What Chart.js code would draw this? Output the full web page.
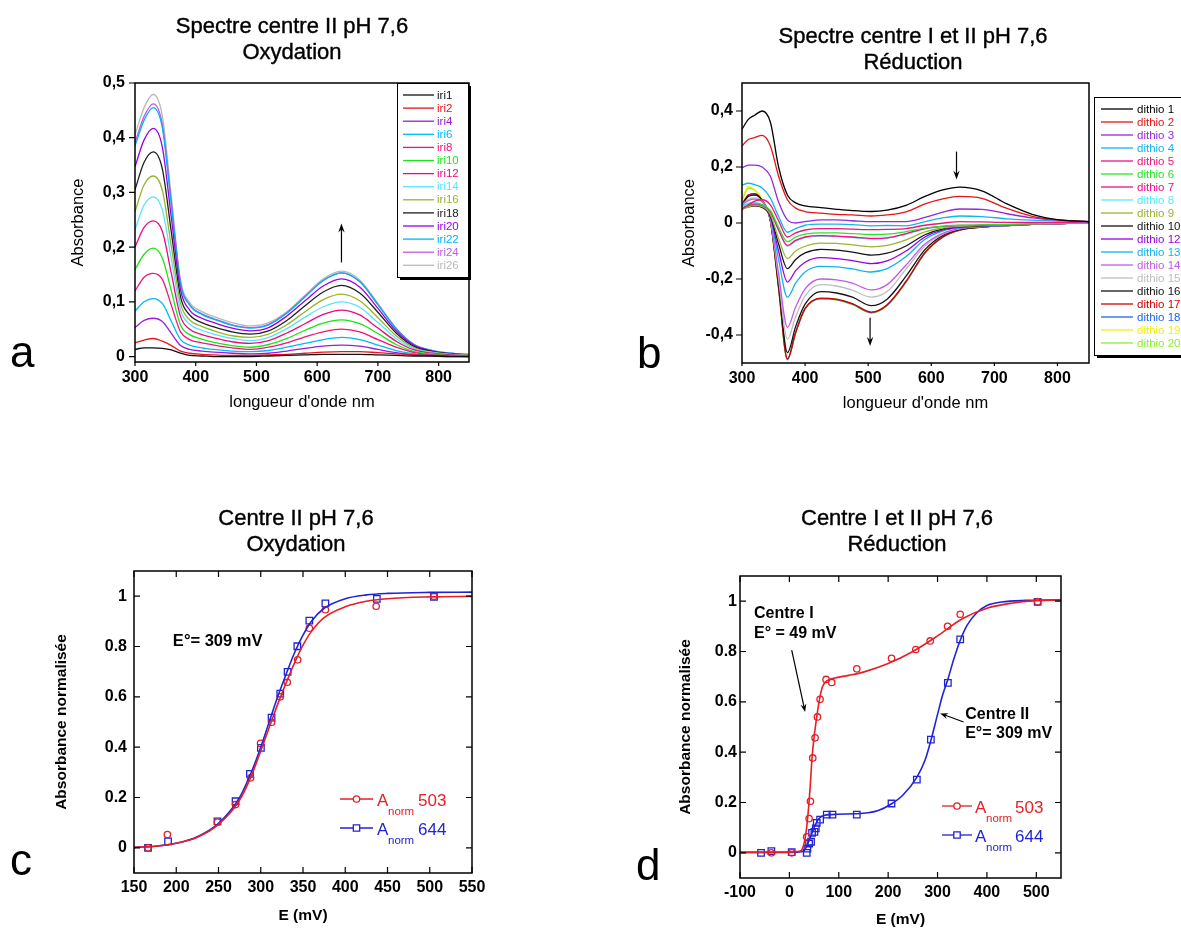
<!DOCTYPE html>
<html lang="fr">
<head>
<meta charset="utf-8">
<title>Spectres et titrages redox, centres I et II</title>
<script src="https://cdn.jsdelivr.net/npm/chart.js@4.4.1/dist/chart.umd.min.js"></script>
<style>
  body { margin: 0; background: #fff; font-family: "Liberation Sans", Arial, sans-serif; }
  #page { position: relative; width: 1181px; height: 929px; overflow: hidden; background: #fff; }
  canvas { position: absolute; }
  .title { position: absolute; width: 400px; text-align: center; font-size: 22px; line-height: 26px; color: #000;
           white-space: nowrap; -webkit-text-stroke: 0.4px #000; }
  .letter { position: absolute; font-size: 44px; line-height: 44px; color: #000; }
</style>
</head>
<body>
<div id="page">
  <canvas id="chA" width="600" height="430" style="left:0;top:0"></canvas>
  <canvas id="chB" width="581" height="430" style="left:600px;top:0"></canvas>
  <canvas id="chC" width="600" height="449" style="left:0;top:480px"></canvas>
  <canvas id="chD" width="581" height="449" style="left:600px;top:480px"></canvas>

  <div class="title" style="left:92px;top:13px">Spectre centre II pH 7,6<br>Oxydation</div>
  <div class="title" style="left:713px;top:23px">Spectre centre I et II pH 7,6<br>Réduction</div>
  <div class="title" style="left:96px;top:505px">Centre II pH 7,6<br>Oxydation</div>
  <div class="title" style="left:697px;top:505px">Centre I et II pH 7,6<br>Réduction</div>

  <div class="letter" style="left:10px;top:330px">a</div>
  <div class="letter" style="left:637px;top:331px">b</div>
  <div class="letter" style="left:10px;top:838px">c</div>
  <div class="letter" style="left:636px;top:843px">d</div>
</div>

<script>
// ---- a : oxydation, centre II (absorbance vs longueur d'onde)
const wlA = [300, 315, 330, 345, 360, 375, 390, 410, 430, 460, 490, 520, 550, 580, 610, 640, 670, 700, 730, 760, 790, 820, 850];
const iri1  = [0.013, 0.016, 0.016, 0.015, 0.012, 0.006, 0.002, 0.001, 0.0, 0.0, 0.0, 0.001, 0.002, 0.003, 0.004, 0.004, 0.004, 0.003, 0.002, 0.001, 0.001, 0.0, 0.0];
const iri2  = [0.025, 0.03, 0.033, 0.028, 0.02, 0.01, 0.006, 0.004, 0.003, 0.002, 0.002, 0.003, 0.004, 0.006, 0.008, 0.009, 0.009, 0.007, 0.005, 0.003, 0.002, 0.001, 0.0];
const iri4  = [0.053, 0.066, 0.07, 0.064, 0.042, 0.02, 0.013, 0.01, 0.008, 0.006, 0.005, 0.006, 0.01, 0.015, 0.019, 0.021, 0.019, 0.013, 0.007, 0.003, 0.001, 0.0, 0.0];
const iri6  = [0.083, 0.1, 0.106, 0.097, 0.064, 0.031, 0.021, 0.016, 0.013, 0.01, 0.009, 0.011, 0.017, 0.024, 0.031, 0.035, 0.031, 0.021, 0.011, 0.005, 0.002, 0.001, 0.0];
const iri8  = [0.12, 0.145, 0.152, 0.141, 0.093, 0.045, 0.031, 0.025, 0.021, 0.016, 0.013, 0.017, 0.025, 0.036, 0.045, 0.05, 0.045, 0.031, 0.017, 0.007, 0.003, 0.002, 0.001];
const iri10 = [0.159, 0.187, 0.198, 0.18, 0.119, 0.057, 0.04, 0.032, 0.026, 0.02, 0.017, 0.022, 0.033, 0.048, 0.061, 0.067, 0.06, 0.042, 0.022, 0.009, 0.005, 0.002, 0.001];
const iri12 = [0.2, 0.236, 0.248, 0.229, 0.151, 0.073, 0.05, 0.04, 0.034, 0.027, 0.024, 0.029, 0.043, 0.06, 0.077, 0.085, 0.076, 0.052, 0.028, 0.012, 0.006, 0.003, 0.002];
const iri14 = [0.232, 0.277, 0.292, 0.268, 0.177, 0.085, 0.059, 0.048, 0.041, 0.033, 0.029, 0.035, 0.051, 0.072, 0.091, 0.1, 0.09, 0.062, 0.033, 0.014, 0.007, 0.004, 0.002];
const iri16 = [0.265, 0.314, 0.33, 0.304, 0.2, 0.097, 0.067, 0.055, 0.047, 0.038, 0.035, 0.041, 0.058, 0.082, 0.104, 0.114, 0.102, 0.071, 0.038, 0.016, 0.008, 0.004, 0.003];
const iri18 = [0.305, 0.355, 0.374, 0.343, 0.226, 0.109, 0.076, 0.062, 0.054, 0.045, 0.041, 0.047, 0.066, 0.093, 0.118, 0.13, 0.116, 0.081, 0.043, 0.018, 0.009, 0.005, 0.003];
const iri20 = [0.347, 0.396, 0.417, 0.383, 0.252, 0.122, 0.085, 0.07, 0.062, 0.052, 0.047, 0.053, 0.074, 0.102, 0.129, 0.142, 0.127, 0.088, 0.047, 0.02, 0.01, 0.005, 0.003];
const iri22 = [0.385, 0.432, 0.455, 0.418, 0.276, 0.133, 0.094, 0.077, 0.068, 0.057, 0.052, 0.058, 0.079, 0.109, 0.139, 0.153, 0.137, 0.095, 0.051, 0.021, 0.011, 0.006, 0.004];
const iri24 = [0.391, 0.439, 0.462, 0.425, 0.28, 0.135, 0.095, 0.078, 0.069, 0.058, 0.053, 0.059, 0.08, 0.11, 0.139, 0.153, 0.137, 0.095, 0.051, 0.022, 0.011, 0.006, 0.004];
const iri26 = [0.405, 0.455, 0.479, 0.44, 0.29, 0.14, 0.099, 0.082, 0.073, 0.062, 0.056, 0.062, 0.082, 0.112, 0.142, 0.156, 0.14, 0.097, 0.052, 0.022, 0.011, 0.006, 0.004];
const namesA = ['iri1', 'iri2', 'iri4', 'iri6', 'iri8', 'iri10', 'iri12', 'iri14', 'iri16', 'iri18', 'iri20', 'iri22', 'iri24', 'iri26'];
const seriesA = [iri1, iri2, iri4, iri6, iri8, iri10, iri12, iri14, iri16, iri18, iri20, iri22, iri24, iri26];
const aXTicks = [300, 400, 500, 600, 700, 800];
const aYTicks = [0, 0.1, 0.2, 0.3, 0.4, 0.5];
const aYLabels = ['0', '0,1', '0,2', '0,3', '0,4', '0,5'];

// ---- b : reduction, centres I et II
const wlB = [300, 310, 320, 332, 345, 358, 372, 385, 400, 425, 450, 475, 505, 530, 560, 590, 620, 645, 680, 720, 760, 800, 850];
const dithio1  = [0.335, 0.37, 0.385, 0.4, 0.36, 0.2, 0.1, 0.072, 0.061, 0.055, 0.049, 0.044, 0.041, 0.046, 0.063, 0.095, 0.119, 0.128, 0.115, 0.068, 0.031, 0.012, 0.005];
const dithio2  = [0.275, 0.298, 0.305, 0.313, 0.275, 0.167, 0.083, 0.053, 0.041, 0.035, 0.031, 0.029, 0.025, 0.029, 0.04, 0.068, 0.087, 0.095, 0.088, 0.052, 0.024, 0.011, 0.005];
const dithio3  = [0.197, 0.207, 0.207, 0.2, 0.167, 0.075, 0.011, 0.0, 0.005, 0.011, 0.011, 0.008, 0.005, 0.005, 0.005, 0.02, 0.04, 0.05, 0.049, 0.033, 0.018, 0.01, 0.005];
const dithio4  = [0.135, 0.142, 0.137, 0.125, 0.089, 0.023, -0.033, -0.02, -0.008, -0.004, -0.004, -0.006, -0.01, -0.009, -0.01, 0.005, 0.019, 0.025, 0.023, 0.015, 0.01, 0.007, 0.004];
const dithio5  = [0.05, 0.065, 0.078, 0.083, 0.065, 0.008, -0.05, -0.035, -0.025, -0.02, -0.02, -0.022, -0.024, -0.023, -0.02, -0.008, 0.0, 0.005, 0.004, 0.002, 0.002, 0.002, 0.002];
const dithio6  = [0.05, 0.065, 0.07, 0.065, 0.045, -0.015, -0.067, -0.05, -0.04, -0.035, -0.035, -0.038, -0.041, -0.04, -0.031, -0.018, -0.011, -0.008, -0.007, -0.005, -0.003, -0.001, 0.0];
const dithio7  = [0.05, 0.063, 0.068, 0.063, 0.04, -0.025, -0.08, -0.062, -0.05, -0.045, -0.047, -0.05, -0.055, -0.053, -0.038, -0.02, -0.012, -0.009, -0.008, -0.006, -0.004, -0.002, 0.0];
const dithio8  = [0.055, 0.07, 0.07, 0.062, 0.04, -0.027, -0.083, -0.065, -0.052, -0.047, -0.048, -0.052, -0.057, -0.054, -0.04, -0.021, -0.013, -0.01, -0.008, -0.006, -0.004, -0.002, 0.0];
const dithio9  = [0.048, 0.058, 0.062, 0.058, 0.03, -0.055, -0.127, -0.1, -0.083, -0.072, -0.073, -0.078, -0.085, -0.08, -0.06, -0.032, -0.017, -0.012, -0.009, -0.007, -0.005, -0.002, 0.0];
const dithio10 = [0.05, 0.058, 0.06, 0.056, 0.025, -0.075, -0.163, -0.13, -0.107, -0.094, -0.097, -0.104, -0.115, -0.108, -0.082, -0.042, -0.02, -0.013, -0.01, -0.007, -0.005, -0.002, 0.0];
const dithio12 = [0.055, 0.063, 0.065, 0.06, 0.022, -0.1, -0.211, -0.17, -0.14, -0.124, -0.127, -0.134, -0.145, -0.135, -0.1, -0.05, -0.024, -0.015, -0.011, -0.008, -0.005, -0.002, 0.0];
const dithio13 = [0.06, 0.07, 0.072, 0.065, 0.02, -0.13, -0.265, -0.215, -0.175, -0.155, -0.157, -0.164, -0.175, -0.163, -0.12, -0.058, -0.027, -0.017, -0.012, -0.008, -0.005, -0.002, 0.0];
const dithio14 = [0.065, 0.08, 0.085, 0.075, 0.015, -0.18, -0.373, -0.3, -0.235, -0.2, -0.203, -0.215, -0.239, -0.22, -0.15, -0.075, -0.035, -0.02, -0.013, -0.009, -0.005, -0.002, 0.0];
const dithio15 = [0.065, 0.085, 0.09, 0.078, 0.012, -0.2, -0.415, -0.335, -0.26, -0.22, -0.225, -0.24, -0.265, -0.245, -0.165, -0.082, -0.038, -0.021, -0.013, -0.009, -0.005, -0.002, 0.0];
const dithio16 = [0.065, 0.095, 0.1, 0.08, 0.01, -0.22, -0.463, -0.37, -0.29, -0.245, -0.25, -0.265, -0.295, -0.272, -0.19, -0.095, -0.042, -0.023, -0.014, -0.009, -0.005, -0.002, 0.0];
const dithio17 = [0.065, 0.1, 0.105, 0.08, 0.008, -0.23, -0.485, -0.39, -0.305, -0.268, -0.272, -0.288, -0.318, -0.292, -0.208, -0.105, -0.047, -0.025, -0.015, -0.009, -0.005, -0.002, 0.0];
const dithio18 = [0.066, 0.1, 0.104, 0.08, 0.008, -0.23, -0.487, -0.392, -0.306, -0.27, -0.274, -0.29, -0.32, -0.294, -0.21, -0.107, -0.048, -0.025, -0.015, -0.009, -0.005, -0.002, 0.0];
const dithio19 = [0.085, 0.13, 0.12, 0.085, 0.008, -0.232, -0.488, -0.392, -0.306, -0.27, -0.274, -0.29, -0.32, -0.294, -0.21, -0.107, -0.048, -0.025, -0.015, -0.009, -0.005, -0.002, 0.0];
const dithio20 = [0.08, 0.125, 0.118, 0.083, 0.006, -0.235, -0.49, -0.395, -0.308, -0.272, -0.275, -0.292, -0.322, -0.296, -0.212, -0.108, -0.048, -0.025, -0.015, -0.009, -0.005, -0.002, 0.0];
const namesB = ['dithio 1', 'dithio 2', 'dithio 3', 'dithio 4', 'dithio 5', 'dithio 6', 'dithio 7', 'dithio 8', 'dithio 9', 'dithio 10',
                'dithio 12', 'dithio 13', 'dithio 14', 'dithio 15', 'dithio 16', 'dithio 17', 'dithio 18', 'dithio 19', 'dithio 20'];
const seriesB = [dithio1, dithio2, dithio3, dithio4, dithio5, dithio6, dithio7, dithio8, dithio9, dithio10,
                 dithio12, dithio13, dithio14, dithio15, dithio16, dithio17, dithio18, dithio19, dithio20];
const bXTicks = [300, 400, 500, 600, 700, 800];
const bYTicks = [-0.4, -0.2, 0, 0.2, 0.4];
const bYLabels = ['-0,4', '-0,2', '0', '0,2', '0,4'];

// ---- c : titrage oxydatif, centre II
const cE503 = [166.6, 189.5, 248.8, 270.2, 288, 299.8, 312.8, 323.1, 331.4, 343.7, 357.5, 376.5, 436.6, 505];
const cA503 = [0, 0.053, 0.102, 0.172, 0.278, 0.415, 0.499, 0.6, 0.658, 0.747, 0.873, 0.946, 0.96, 1.0];
const cE644 = [166.6, 190.3, 248.8, 270.2, 287.2, 300.2, 312.8, 323.1, 331.8, 343.3, 357.5, 376.5, 437.4, 505];
const cA644 = [0, 0.026, 0.105, 0.185, 0.294, 0.397, 0.517, 0.613, 0.699, 0.801, 0.903, 0.971, 0.989, 0.997];
const cFitE   = [150, 175, 200, 225, 250, 275, 290, 300, 310, 320, 330, 340, 350, 360, 375, 400, 425, 450, 500, 550];
const cFit503 = [0.002, 0.006, 0.018, 0.042, 0.093, 0.19, 0.295, 0.385, 0.478, 0.57, 0.655, 0.735, 0.805, 0.86, 0.915, 0.958, 0.98, 0.99, 0.997, 0.999];
const cFit644 = [0.002, 0.006, 0.018, 0.044, 0.097, 0.2, 0.31, 0.4, 0.5, 0.6, 0.69, 0.775, 0.845, 0.9, 0.952, 0.99, 1.005, 1.011, 1.015, 1.016];
const cXTicks = [150, 200, 250, 300, 350, 400, 450, 500, 550];
const cYTicks = [0, 0.2, 0.4, 0.6, 0.8, 1];
const cYLabels = ['0', '0.2', '0.4', '0.6', '0.8', '1'];

// ---- d : titrage reducteur, centres I et II
const dE503 = [-36.5, 4.7, 35.1, 39.9, 42.6, 47.3, 52, 56.8, 62.2, 74.3, 85.8, 136.5, 206.8, 256, 285.1, 320.3, 345.9, 502.7];
const dA503 = [0.0, 0.0, 0.064, 0.136, 0.205, 0.377, 0.457, 0.54, 0.61, 0.689, 0.677, 0.731, 0.773, 0.808, 0.842, 0.9, 0.948, 0.998];
const dE644 = [-57.4, -36.5, 4.7, 35.1, 36.5, 39.9, 43.9, 45.9, 50.7, 53.4, 55.4, 62.2, 75.7, 87.2, 136.5, 206.8, 258.1, 286.5, 320.9, 345.9, 502.7];
const dA644 = [0.0, 0.007, 0.003, 0.0, 0.017, 0.037, 0.044, 0.079, 0.083, 0.097, 0.119, 0.132, 0.152, 0.152, 0.152, 0.196, 0.291, 0.45, 0.675, 0.848, 0.997];
const dFit503E = [-100, 0, 20, 26, 30, 34, 38, 42, 46, 50, 54, 58, 62, 67, 75, 90, 120, 150, 200, 250, 300, 350, 400, 450, 500, 550];
const dFit503  = [0.002, 0.003, 0.006, 0.015, 0.04, 0.085, 0.16, 0.26, 0.38, 0.46, 0.52, 0.575, 0.62, 0.66, 0.682, 0.694, 0.705, 0.718, 0.752, 0.8, 0.862, 0.93, 0.972, 0.992, 1.002, 1.005];
const dFit644E = [-100, 0, 25, 32, 38, 44, 50, 56, 62, 70, 85, 150, 180, 207, 230, 258, 275, 287, 300, 310, 321, 333, 346, 360, 380, 400, 430, 480, 550];
const dFit644  = [0.002, 0.002, 0.004, 0.015, 0.04, 0.07, 0.1, 0.125, 0.14, 0.148, 0.152, 0.157, 0.168, 0.195, 0.23, 0.3, 0.37, 0.45, 0.55, 0.625, 0.69, 0.77, 0.845, 0.905, 0.955, 0.983, 0.997, 1.003, 1.005];
const dXTicks = [-100, 0, 100, 200, 300, 400, 500];
const dYTicks = [0, 0.2, 0.4, 0.6, 0.8, 1];
const dYLabels = ['0', '0.2', '0.4', '0.6', '0.8', '1'];
const legendNums = ['503', '644'];

const colorsA = ['#111111', '#e8141e', '#9b1ed7', '#00b9f5', '#f0147d', '#19e619', '#eb0a7d', '#5ae1ff',
                 '#96b42d', '#1e1e1e', '#9b00e6', '#00b4f0', '#be5ae6', '#b9b9b9'];
const colorsB = ['#000000', '#e61414', '#9628dc', '#14b4f0', '#f0147d', '#28e628', '#f50a87', '#5ae6ff', '#9bb432', '#141414',
                 '#9600e6', '#0fb4f0', '#c35ae6', '#bebebe', '#141414', '#d20000', '#1e64f5', '#f0f014', '#8cf02d'];
const RED = '#e41f26';
const BLUE = '#2323d6';
const FONT = '"Liberation Sans", Arial, sans-serif';

Chart.defaults.font.family = FONT;
Chart.defaults.color = '#000';
Chart.defaults.animation = false;

const pts = (xs, ys) => xs.map((x, i) => ({ x: x, y: ys[i] }));

function drawArrow(ctx, x1, y1, x2, y2, head, half) {
  const ang = Math.atan2(y2 - y1, x2 - x1);
  const c = Math.cos(ang), s = Math.sin(ang);
  ctx.beginPath();
  ctx.moveTo(x1, y1);
  ctx.lineTo(x2 - c * head * 0.6, y2 - s * head * 0.6);
  ctx.stroke();
  ctx.beginPath();
  ctx.moveTo(x2, y2);
  ctx.lineTo(x2 - c * head - s * half, y2 - s * head + c * half);
  ctx.lineTo(x2 - c * head * 0.65, y2 - s * head * 0.65);
  ctx.lineTo(x2 - c * head + s * half, y2 - s * head - c * half);
  ctx.closePath();
  ctx.fill();
}

// frame, ticks, arrows, notes and legends
const decoPlugin = {
  id: 'deco',
  afterDatasetsDraw(chart, args, o) {
    const ctx = chart.ctx, a = chart.chartArea;
    const xs = chart.scales.x, ys = chart.scales.y;
    ctx.save();
    ctx.strokeStyle = '#000';
    ctx.fillStyle = '#000';
    ctx.lineWidth = 1.5;
    ctx.strokeRect(a.left, a.top, a.right - a.left, a.bottom - a.top);

    ctx.lineWidth = 1.2;
    ctx.beginPath();
    xs.ticks.forEach(t => {
      const p = xs.getPixelForValue(t.value);
      if (o.inward) {
        ctx.moveTo(p, a.bottom); ctx.lineTo(p, a.bottom - o.tickX);
        ctx.moveTo(p, a.top); ctx.lineTo(p, a.top + o.tickX);
      } else {
        ctx.moveTo(p, a.bottom); ctx.lineTo(p, a.bottom + o.tickX);
      }
    });
    ys.ticks.forEach(t => {
      const p = ys.getPixelForValue(t.value);
      if (o.inward) {
        ctx.moveTo(a.left, p); ctx.lineTo(a.left + o.tickY, p);
        ctx.moveTo(a.right, p); ctx.lineTo(a.right - o.tickY, p);
      } else {
        ctx.moveTo(a.left, p); ctx.lineTo(a.left - o.tickY, p);
      }
    });
    ctx.stroke();

    ctx.lineWidth = 1.2;
    (o.arrows || []).forEach(ar => {
      drawArrow(ctx, xs.getPixelForValue(ar.from[0]), ys.getPixelForValue(ar.from[1]),
                xs.getPixelForValue(ar.to[0]), ys.getPixelForValue(ar.to[1]), ar.head, ar.half);
    });

    ctx.textAlign = 'left';
    ctx.textBaseline = 'middle';
    (o.notes || []).forEach(n => {
      ctx.font = n.font;
      ctx.fillText(n.text, xs.getPixelForValue(n.x), ys.getPixelForValue(n.y));
    });

    const bl = o.boxLegend;
    if (bl) {
      ctx.fillStyle = '#000';
      ctx.fillRect(bl.left + 3, bl.top + 3, bl.width, bl.height);
      ctx.fillStyle = '#fff';
      ctx.fillRect(bl.left, bl.top, bl.width, bl.height);
      ctx.lineWidth = 1;
      ctx.strokeRect(bl.left + 0.5, bl.top + 0.5, bl.width, bl.height);
      ctx.font = bl.font;
      ctx.textBaseline = 'middle';
      chart.data.datasets.forEach((ds, i) => {
        const yy = bl.top + bl.first + i * bl.row;
        ctx.strokeStyle = ds.borderColor;
        ctx.lineWidth = 1.3;
        ctx.beginPath();
        ctx.moveTo(bl.left + bl.line0, yy);
        ctx.lineTo(bl.left + bl.line1, yy);
        ctx.stroke();
        ctx.fillStyle = ds.borderColor;
        ctx.fillText(ds.label, bl.left + bl.text, yy + 0.5);
      });
    }

    const sl = o.subLegend;
    if (sl) {
      sl.sets.forEach((di, k) => {
        const ds = chart.data.datasets[di];
        const yy = sl.top + k * sl.row;
        const mid = (sl.line0 + sl.line1) / 2;
        ctx.strokeStyle = ds.borderColor;
        ctx.fillStyle = ds.borderColor;
        ctx.lineWidth = 1.3;
        ctx.beginPath();
        ctx.moveTo(sl.line0, yy);
        ctx.lineTo(sl.line1, yy);
        ctx.stroke();
        ctx.fillStyle = '#fff';
        ctx.beginPath();
        if (ds.pointStyle === 'rect') {
          ctx.rect(mid - 3.2, yy - 3.2, 6.4, 6.4);
        } else {
          ctx.arc(mid, yy, 3.2, 0, Math.PI * 2);
        }
        ctx.fill();
        ctx.stroke();
        ctx.fillStyle = ds.borderColor;
        ctx.textBaseline = 'alphabetic';
        ctx.font = sl.font;
        ctx.fillText('A', sl.textA, yy + 7);
        ctx.font = sl.subFont;
        ctx.fillText('norm', sl.textSub, yy + 16);
        ctx.font = sl.font;
        ctx.fillText(legendNums[k], sl.textNum, yy + 7);
      });
    }
    ctx.restore();
  }
};

function axisX(min, max, ticks, labels, h, pad, title, titleFont, titlePad) {
  return {
    type: 'linear', min: min, max: max,
    afterBuildTicks: s => { s.ticks = ticks.map(v => ({ value: v })); },
    afterFit: s => { s.height = h; },
    grid: { display: false, drawTicks: false },
    border: { display: false },
    ticks: { autoSkip: false, maxRotation: 0, padding: pad, font: { size: 16, weight: 'bold' },
             callback: (v, i) => labels[i] },
    title: { display: true, text: title, font: titleFont, padding: { top: 0, bottom: titlePad } }
  };
}
function axisY(min, max, ticks, labels, w, pad, title, titleFont, titlePad) {
  return {
    type: 'linear', min: min, max: max,
    afterBuildTicks: s => { s.ticks = ticks.map(v => ({ value: v })); },
    afterFit: s => { s.width = w; },
    grid: { display: false, drawTicks: false },
    border: { display: false },
    ticks: { autoSkip: false, padding: pad, font: { size: 16, weight: 'bold' },
             callback: (v, i) => labels[i] },
    title: { display: true, text: title, font: titleFont, padding: { top: titlePad, bottom: 0 } }
  };
}

const spectrumSet = (label, xs, ys, color) => ({
  label: label, data: pts(xs, ys), borderColor: color, backgroundColor: color,
  borderWidth: 1.3, pointRadius: 0, cubicInterpolationMode: 'monotone', fill: false
});

const thinFont = { size: 16.5, weight: 'normal' };
const boldFont = { size: 15.5, weight: 'bold' };
const basePlugins = { legend: { display: false }, tooltip: { enabled: false }, title: { display: false } };

// a
new Chart(document.getElementById('chA'), {
  type: 'line',
  data: { datasets: seriesA.map((s, i) => spectrumSet(namesA[i], wlA, s, colorsA[i])) },
  options: {
    responsive: false,
    layout: { padding: { left: 0, top: 83, right: 131, bottom: 0 } },
    scales: {
      x: axisX(300, 850, aXTicks, aXTicks.map(String), 68, 6, "longueur d'onde nm", thinFont, 18),
      y: axisY(-0.01, 0.5, aYTicks, aYLabels, 135, 10, 'Absorbance', thinFont, 69)
    },
    plugins: Object.assign({}, basePlugins, {
      deco: {
        inward: false, tickX: 4, tickY: 6,
        arrows: [{ from: [640, 0.172], to: [640, 0.243], head: 9, half: 3.2 }],
        boxLegend: { left: 397, top: 83, width: 71, height: 194, first: 12, row: 13.1,
                     line0: 6, line1: 37, text: 40, font: '11.5px ' + FONT }
      }
    })
  },
  plugins: [decoPlugin]
});

// b
new Chart(document.getElementById('chB'), {
  type: 'line',
  data: { datasets: seriesB.map((s, i) => spectrumSet(namesB[i], wlB, s, colorsB[i])) },
  options: {
    responsive: false,
    layout: { padding: { left: 0, top: 83, right: 92, bottom: 0 } },
    scales: {
      x: axisX(300, 850, bXTicks, bXTicks.map(String), 67, 6, "longueur d'onde nm", thinFont, 17),
      y: axisY(-0.5, 0.5, bYTicks, bYLabels, 142, 9, 'Absorbance', thinFont, 80)
    },
    plugins: Object.assign({}, basePlugins, {
      deco: {
        inward: false, tickX: 3, tickY: 6,
        arrows: [{ from: [640, 0.255], to: [640, 0.155], head: 9, half: 3.2 },
                 { from: [503, -0.338], to: [503, -0.439], head: 9, half: 3.2 }],
        boxLegend: { left: 494, top: 97, width: 100, height: 258, first: 12, row: 13.0,
                     line0: 7, line1: 39, text: 43, font: '11.5px ' + FONT }
      }
    })
  },
  plugins: [decoPlugin]
});

const fitSet = (xs, ys, color) => ({
  data: pts(xs, ys), showLine: true, borderColor: color, borderWidth: 1.6, pointRadius: 0,
  cubicInterpolationMode: 'monotone', fill: false
});
const markSet = (label, xs, ys, color, style, r) => ({
  label: label, data: pts(xs, ys), showLine: false, borderColor: color, backgroundColor: 'rgba(255,255,255,0)',
  pointStyle: style, pointRadius: r, pointBorderWidth: 1.3
});

// c
new Chart(document.getElementById('chC'), {
  type: 'scatter',
  data: {
    datasets: [
      fitSet(cFitE, cFit503, RED),
      fitSet(cFitE, cFit644, BLUE),
      markSet('A norm 503', cE503, cA503, RED, 'circle', 3.2),
      markSet('A norm 644', cE644, cA644, BLUE, 'rect', 4.6)
    ]
  },
  options: {
    responsive: false,
    layout: { padding: { left: 0, top: 91, right: 128, bottom: 0 } },
    scales: {
      x: axisX(150, 550, cXTicks, cXTicks.map(String), 56, 5, 'E (mV)', boldFont, 4),
      y: axisY(-0.1, 1.1, cYTicks, cYLabels, 134, 7, 'Absorbance normalisée', boldFont, 52)
    },
    plugins: Object.assign({}, basePlugins, {
      deco: {
        inward: true, tickX: 6, tickY: 6,
        notes: [{ x: 196, y: 0.82, text: 'E°= 309 mV', font: 'bold 16.5px ' + FONT }],
        subLegend: { sets: [2, 3], top: 319, row: 29, line0: 340, line1: 373,
                     textA: 377, textSub: 388, textNum: 418,
                     font: '17px ' + FONT, subFont: '11.5px ' + FONT }
      }
    })
  },
  plugins: [decoPlugin]
});

// d
new Chart(document.getElementById('chD'), {
  type: 'scatter',
  data: {
    datasets: [
      fitSet(dFit503E, dFit503, RED),
      fitSet(dFit644E, dFit644, BLUE),
      markSet('A norm 503', dE503, dA503, RED, 'circle', 3.2),
      markSet('A norm 644', dE644, dA644, BLUE, 'rect', 4.6)
    ]
  },
  options: {
    responsive: false,
    layout: { padding: { left: 0, top: 96, right: 120, bottom: 0 } },
    scales: {
      x: axisX(-100, 550, dXTicks, dXTicks.map(String), 51, 5, 'E (mV)', boldFont, 0),
      y: axisY(-0.1, 1.1, dYTicks, dYLabels, 140, 3, 'Absorbance normalisée', boldFont, 76)
    },
    plugins: Object.assign({}, basePlugins, {
      deco: {
        inward: true, tickX: 6, tickY: 6,
        notes: [
          { x: -71.6, y: 0.951, text: 'Centre I', font: 'bold 16px ' + FONT },
          { x: -71.6, y: 0.872, text: 'E° = 49 mV', font: 'bold 16px ' + FONT },
          { x: 356, y: 0.551, text: 'Centre II', font: 'bold 16px ' + FONT },
          { x: 356, y: 0.474, text: 'E°= 309 mV', font: 'bold 16px ' + FONT }
        ],
        arrows: [{ from: [4.7, 0.805], to: [31.8, 0.56], head: 8, half: 3 },
                 { from: [352.7, 0.52], to: [305.4, 0.554], head: 8, half: 3 }],
        subLegend: { sets: [2, 3], top: 326, row: 29, line0: 342, line1: 372,
                     textA: 375, textSub: 386, textNum: 415,
                     font: '17px ' + FONT, subFont: '11.5px ' + FONT }
      }
    })
  },
  plugins: [decoPlugin]
});
</script>
</body>
</html>
